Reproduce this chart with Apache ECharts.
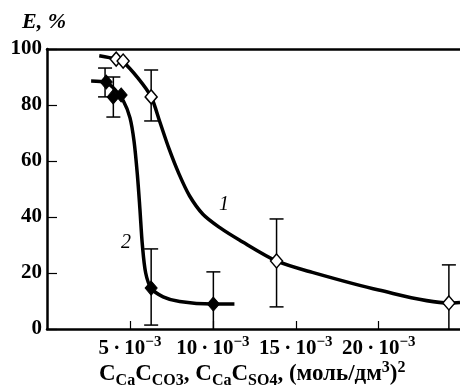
<!DOCTYPE html>
<html>
<head>
<meta charset="utf-8">
<script src="https://cdn.jsdelivr.net/npm/echarts@6/dist/echarts.min.js"></script>
<style>html,body{margin:0;padding:0;background:#fff}#c{width:460px;height:389px}</style>
</head>
<body>
<div id="c"></div>
<script>
// x values in units of 10^-3 (моль/дм3)^2, y values in %
const xTickValues = [5, 10, 15, 20];
const yTickLabels = [0, 20, 40, 60, 80, 100];

// Series 1 (open diamonds)
const s1X = [4.17, 4.59, 6.28, 13.84, 24.23];
const s1Y = [96.4, 95.7, 82.9, 24.3, 9.3];
// Series 2 (filled diamonds)
const s2X = [3.57, 3.99, 4.47, 6.28, 10.03];
const s2Y = [88.2, 82.9, 83.6, 14.6, 8.9];

// Error bars: x, low, high
const err1X = [6.28, 13.84, 24.23];
const err1Lo = [74.3, 7.9, 0];
const err1Hi = [92.5, 39.3, 22.9];
const err2X = [3.5, 4.0, 6.28, 10.03];
const err2Lo = [82.9, 75.7, 1.4, 0];
const err2Hi = [93.2, 90.0, 28.6, 20.4];

// Fitted curves
const curve1X = [3.15, 4.17, 4.59, 5.5, 6.28, 6.8, 7.35, 7.95, 8.6, 9.4, 10.4, 11.6, 13.84, 16.0, 20.0, 24.23, 24.9];
const curve1Y = [97.6, 96.4, 95.4, 89.5, 82.9, 74.0, 64.5, 55.5, 47.5, 41.0, 36.3, 31.8, 24.3, 20.2, 13.9, 9.3, 9.5];
const curve2X = [2.66, 3.57, 4.1, 4.6, 5.0, 5.25, 5.45, 5.6, 5.75, 5.95, 6.28, 7.0, 8.0, 9.97, 11.3];
const curve2Y = [88.6, 88.0, 85.5, 81.5, 75.5, 67.0, 55.0, 43.0, 30.0, 20.0, 14.6, 11.5, 9.8, 8.9, 8.9];

const FONT = 'Liberation Serif';
const zip = (a, b) => a.map((v, i) => [v, b[i]]);
const zip3 = (a, b, c) => a.map((v, i) => [v, b[i], c[i]]);

function errRender(params, api) {
  const x = api.value(0), lo = api.value(1), hi = api.value(2);
  const p1 = api.coord([x, hi]);
  const p2 = api.coord([x, lo]);
  const w = 7;
  const st = { stroke: '#000', lineWidth: 1.5 };
  const ch = [{ type: 'line', shape: { x1: p1[0], y1: p1[1], x2: p2[0], y2: p2[1] }, style: st }];
  if (hi < 100) ch.push({ type: 'line', shape: { x1: p1[0] - w, y1: p1[1], x2: p1[0] + w, y2: p1[1] }, style: st });
  if (lo > 0) ch.push({ type: 'line', shape: { x1: p2[0] - w, y1: p2[1], x2: p2[0] + w, y2: p2[1] }, style: st });
  return { type: 'group', children: ch };
}

const chart = echarts.init(document.getElementById('c'));
chart.setOption({
  animation: false,
  backgroundColor: '#fff',
  grid: { left: 47, right: 0, top: 49, bottom: 60 },
  xAxis: [{
    type: 'value', min: 0, max: 24.9, interval: 5,
    axisLine: { lineStyle: { color: '#000', width: 2.5 } },
    axisTick: { inside: true, length: 8, lineStyle: { color: '#000', width: 1.2 } },
    splitLine: { show: false },
    axisLabel: {
      showMaxLabel: false, showMinLabel: false, margin: 6,
      formatter: v => xTickValues.includes(v) ? (v + '\u2009·\u200910{sup|−3}') : '',
      fontFamily: FONT, fontSize: 21, fontWeight: 'bold', color: '#000',
      rich: { sup: { fontFamily: FONT, fontSize: 15, fontWeight: 'bold', color: '#000', padding: [0, 0, 12, 0] } }
    }
  }, {
    type: 'value', position: 'top', min: 0, max: 24.9,
    axisLine: { show: true, onZero: false, lineStyle: { color: '#000', width: 2.5 } },
    axisTick: { show: false }, axisLabel: { show: false }, splitLine: { show: false }
  }],
  yAxis: {
    type: 'value', min: 0, max: 100, interval: 20,
    axisLine: { show: true, lineStyle: { color: '#000', width: 2.5 } },
    axisTick: { show: true, inside: true, length: 10, lineStyle: { color: '#000', width: 1.2 } },
    splitLine: { show: false },
    axisLabel: {
      margin: 5, fontFamily: FONT, fontSize: 21, fontWeight: 'bold', color: '#000',
      formatter: v => yTickLabels.includes(v) ? String(v) : ''
    }
  },
  series: [
    { type: 'custom', renderItem: errRender, data: zip3(err1X, err1Lo, err1Hi), clip: true, z: 1, silent: true },
    { type: 'custom', renderItem: errRender, data: zip3(err2X, err2Lo, err2Hi), clip: true, z: 1, silent: true },
    { type: 'line', data: zip(curve1X, curve1Y), smooth: 0.3, showSymbol: false, symbol: 'none',
      lineStyle: { color: '#000', width: 3.5 }, z: 2, clip: true },
    { type: 'line', data: zip(curve2X, curve2Y), smooth: 0.3, showSymbol: false, symbol: 'none',
      lineStyle: { color: '#000', width: 3.5 }, z: 2, clip: true },
    { type: 'scatter', data: zip(s1X, s1Y), symbol: 'diamond', symbolSize: [12, 14],
      itemStyle: { color: '#fff', borderColor: '#000', borderWidth: 1.5, opacity: 1 }, z: 3 },
    { type: 'scatter', data: zip(s2X, s2Y), symbol: 'diamond', symbolSize: [12, 14],
      itemStyle: { color: '#000', borderColor: '#000', borderWidth: 1, opacity: 1 }, z: 3 }
  ],
  graphic: [
    { type: 'text', left: 22, top: 11, style: { text: 'E, %', fontFamily: FONT, fontSize: 22, fontWeight: 'bold', fontStyle: 'italic', fill: '#000' } },
    { type: 'text', left: 219, top: 195, style: { text: '1', fontFamily: FONT, fontSize: 20, fontStyle: 'italic', fill: '#000' } },
    { type: 'text', left: 121, top: 233, style: { text: '2', fontFamily: FONT, fontSize: 20, fontStyle: 'italic', fill: '#000' } },
    { type: 'text', left: 99, top: 360, style: {
        text: 'C{sub|Ca}C{sub|CO3}, C{sub|Ca}C{sub|SO4}, (моль/дм{sup|3}){sup|2}',
        fontFamily: FONT, fontSize: 23, fontWeight: 'bold', fill: '#000',
        rich: {
          sub: { fontFamily: FONT, fontSize: 16, fontWeight: 'bold', fill: '#000', padding: [13, 0, 0, 0] },
          sup: { fontFamily: FONT, fontSize: 16, fontWeight: 'bold', fill: '#000', padding: [0, 0, 13, 0] }
        }
      } }
  ]
});
</script>
</body>
</html>
